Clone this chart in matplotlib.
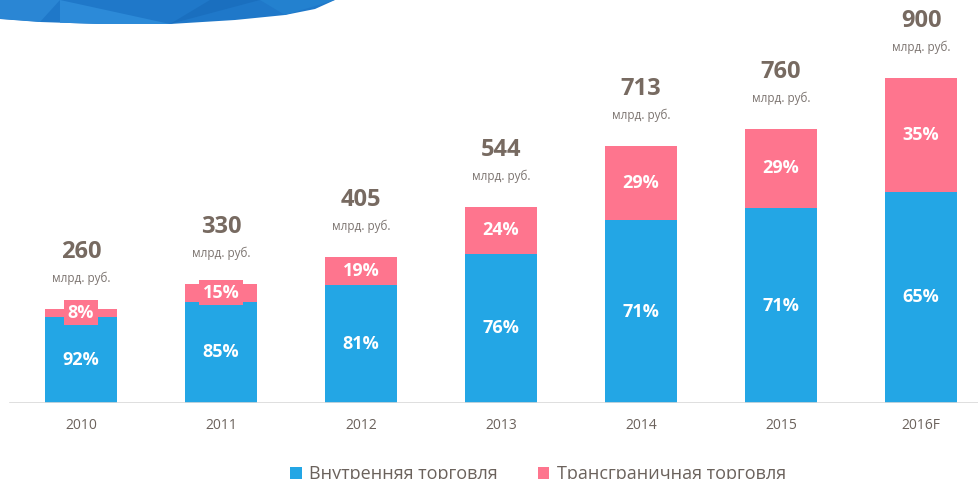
import numpy as np
import matplotlib.pyplot as plt
from matplotlib.patches import Polygon

plt.rcParams['font.family'] = ['Open Sans', 'DejaVu Sans']

# данные
years = ['2010', '2011', '2012', '2013', '2014', '2015', '2016F']
totals = np.array([260, 330, 405, 544, 713, 760, 900])
domestic_pct = np.array([92, 85, 81, 76, 71, 71, 65])
cross_pct = np.array([8, 15, 19, 24, 29, 29, 35])

domestic = totals * domestic_pct / 100
cross = totals - domestic

BLUE = '#23a6e5'
PINK = '#fe758e'
BROWN = '#776a61'
GREY = '#7c7470'

W, H = 979, 479
fig = plt.figure(figsize=(W / 100, H / 100), dpi=100)
ax = fig.add_axes([0, (H - 403) / H, 1, 403 / H])

x = np.arange(len(years))
bw = 0.514
b1 = ax.bar(x, domestic, width=bw, color=BLUE, label='Внутренняя торговля', zorder=2)
b2 = ax.bar(x, cross, bottom=domestic, width=bw, color=PINK,
            label='Трансграничная торговля', zorder=2)

ax.set_xlim(-81 / 140, (W - 81) / 140)
ax.set_ylim(0, 403 / 325 * 900)

# базовая линия
ax.axhline(0, xmin=10 / W, xmax=1, color='#d9d9d9', lw=1.2, zorder=3)

for i in range(len(years)):
    ax.text(x[i], domestic[i] / 2, f'{domestic_pct[i]}%', ha='center', va='center',
            color='white', fontsize=13, fontweight='bold', zorder=4)
    ax.text(x[i], domestic[i] + cross[i] / 2, f'{cross_pct[i]}%', ha='center', va='center',
            color='white', fontsize=13, fontweight='bold', zorder=4,
            bbox=dict(boxstyle='square,pad=0.2', fc=PINK, ec='none'))
    ax.annotate(f'{totals[i]}', (x[i], totals[i]), xytext=(0, 41),
                textcoords='offset points', ha='center', va='center',
                color=BROWN, fontsize=17, fontweight='bold')
    ax.annotate('млрд. руб.', (x[i], totals[i]), xytext=(0, 22),
                textcoords='offset points', ha='center', va='center',
                color=GREY, fontsize=8.5)

ax.set_xticks(x)
ax.set_xticklabels(years, fontsize=10, color='#6b625c')
ax.tick_params(axis='x', length=0, pad=11)
ax.set_yticks([])
for s in ax.spines.values():
    s.set_visible(False)

# легенда
fig.legend(handles=[b1, b2], loc='center', bbox_to_anchor=(538 / W, (H - 474) / H),
           ncol=2, frameon=False, fontsize=13, handlelength=0.65, handleheight=0.65,
           handletextpad=0.4, columnspacing=2.2, labelcolor='#6b625c')

# декоративная волна сверху
def px(pts):
    return [(px_x / W, 1 - px_y / H) for px_x, px_y in pts]

wave = Polygon(px([(0, 0), (335, 0), (315, 9), (285, 15), (235, 20), (170, 24),
                   (100, 24), (40, 22), (0, 19)]),
               closed=True, transform=fig.transFigure, fc='#1f78c9', ec='none')
fig.patches.append(wave)
for pts, col in [([(0, 0), (60, 0), (40, 22), (0, 19)], '#2a86d4'),
                 ([(60, 0), (170, 24), (60, 24)], '#2c8ad8'),
                 ([(170, 24), (210, 0), (260, 0)], '#1a6fbf'),
                 ([(260, 0), (335, 0), (285, 15)], '#2381cf')]:
    p = Polygon(px(pts), closed=True, transform=fig.transFigure, fc=col, ec='none')
    p.set_clip_path(wave)
    fig.patches.append(p)

fig.savefig('out.png', dpi=100)
